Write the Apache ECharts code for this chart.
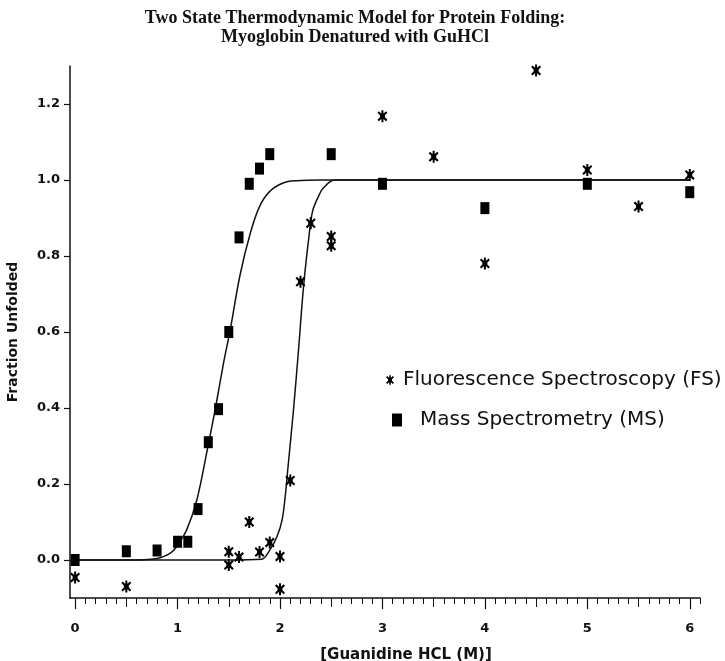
<!DOCTYPE html>
<html><head><meta charset="utf-8">
<script src="https://cdn.jsdelivr.net/npm/echarts@6/dist/echarts.min.js"></script>
<style>html,body{margin:0;padding:0;background:#fff}#c{width:725px;height:661px}</style>
</head><body><div id="c"></div>
<script>
// ---- data ----
const fsX = [0, 0.5, 1.5, 1.5, 1.6, 1.7, 1.8, 1.9, 2.0, 2.0, 2.1, 2.2, 2.3, 2.5, 2.5, 3.0, 3.5, 4.0, 4.5, 5.0, 5.5, 6.0];
const fsY = [-0.046, -0.07, 0.022, -0.013, 0.008, 0.10, 0.021, 0.046, 0.009, -0.077, 0.209, 0.732, 0.886, 0.851, 0.827, 1.168, 1.061, 0.78, 1.288, 1.026, 0.93, 1.013];
const msX = [0, 0.5, 0.8, 1.0, 1.1, 1.2, 1.3, 1.4, 1.5, 1.6, 1.7, 1.8, 1.9, 2.5, 3.0, 4.0, 5.0, 6.0];
const msY = [0.0, 0.023, 0.025, 0.048, 0.048, 0.134, 0.31, 0.397, 0.60, 0.849, 0.99, 1.03, 1.068, 1.068, 0.99, 0.926, 0.99, 0.968];
// fitted two-state curves
const msFitX = [0, 0.5, 0.8, 0.93, 0.99, 1.09, 1.19, 1.29, 1.37, 1.45, 1.51, 1.61, 1.71, 1.80, 1.90, 2.03, 2.16, 2.4, 3.0, 4.0, 5.0, 6.0];
const msFitY = [0, 0, 0.004, 0.018, 0.035, 0.08, 0.16, 0.29, 0.40, 0.52, 0.60, 0.75, 0.86, 0.93, 0.97, 0.992, 0.998, 1.0, 1.0, 1.0, 1.0, 1.0];
const fsFitX = [0, 1.0, 1.5, 1.82, 1.90, 1.97, 2.02, 2.05, 2.08, 2.13, 2.18, 2.23, 2.28, 2.32, 2.39, 2.42, 2.49, 2.55, 3.0, 4.0, 5.0, 6.0];
const fsFitY = [0, 0, 0, 0.002, 0.026, 0.061, 0.105, 0.165, 0.25, 0.39, 0.55, 0.72, 0.845, 0.92, 0.965, 0.978, 0.996, 1.0, 1.0, 1.0, 1.0, 1.0];
const xTicks = [0, 1, 2, 3, 4, 5, 6];
const xHalfTicks = [0.5, 1.5, 2.5, 3.5, 4.5, 5.5];
const yTicks = [0.0, 0.2, 0.4, 0.6, 0.8, 1.0, 1.2];
const names = ['Fluorescence Spectroscopy (FS)', 'Mass Spectrometry (MS)'];

const xMinor = [];
for (let i = 0; i <= 61; i++) { if (i % 5 !== 0) xMinor.push(i / 10); }

const zip = (a, b) => a.map((v, i) => [v, b[i]]);
const star = 'path://M4,0L6,0L6,12L4,12Z M0,2.5L1.5,1L10,9.5L8.5,11Z M8.5,1L10,2.5L1.5,11L0,9.5Z M2.5,3L7.5,3L7.5,9L2.5,9Z';
const INK = '#111';
const MARK = '#000';
const tickFont = { fontFamily: 'DejaVu Sans', fontWeight: 'bold', fontSize: 13, color: INK };
const XMIN = -0.05, XMAX = 6.1;

const chart = echarts.init(document.getElementById('c'), null, { renderer: 'canvas' });
chart.setOption({
  animation: false,
  backgroundColor: '#fff',
  title: {
    text: 'Two State Thermodynamic Model for Protein Folding:\nMyoglobin Denatured with GuHCl',
    left: 350, top: 4, padding: 5, textAlign: 'center',
    textStyle: { fontFamily: 'Liberation Serif', fontWeight: 'bold', fontSize: 18, lineHeight: 19, color: INK }
  },
  grid: { left: 70, right: 25, top: 66, bottom: 63, containLabel: false, outerBoundsMode: 'none' },
  legend: [
    { data: [names[0]], orient: 'vertical', left: 381, top: 365, itemWidth: 8, itemHeight: 11,
      icon: star, itemStyle: { color: MARK },
      textStyle: { fontFamily: 'DejaVu Sans', fontSize: 20, color: INK, padding: [0, 0, 0, 4] } },
    { data: [names[1]], orient: 'vertical', left: 387, top: 405, itemWidth: 10, itemHeight: 13,
      icon: 'rect', itemStyle: { color: MARK },
      textStyle: { fontFamily: 'DejaVu Sans', fontSize: 20, color: INK, padding: [0, 0, 0, 13] } }
  ],
  xAxis: [
    { type: 'value', min: XMIN, max: XMAX, position: 'bottom',
      name: '[Guanidine HCL (M)]', nameLocation: 'middle', nameGap: 50,
      nameTextStyle: { fontFamily: 'DejaVu Sans', fontWeight: 'bold', fontSize: 15, color: INK, padding: [0, 0, 0, 42] },
      axisLine: { onZero: false, lineStyle: { color: INK, width: 1.5 } },
      axisTick: { customValues: xTicks, length: 11, lineStyle: { color: INK, width: 1.2 } },
      axisLabel: { customValues: xTicks, margin: 24, ...tickFont, formatter: v => String(Math.round(v)) },
      splitLine: { show: false } },
    { type: 'value', min: XMIN, max: XMAX, position: 'bottom',
      axisLine: { show: false, onZero: false },
      axisTick: { customValues: xHalfTicks, length: 9, lineStyle: { color: INK, width: 1 } },
      axisLabel: { show: false }, splitLine: { show: false } },
    { type: 'value', min: XMIN, max: XMAX, position: 'bottom',
      axisLine: { show: false, onZero: false },
      axisTick: { customValues: xMinor, length: 6, lineStyle: { color: INK, width: 1 } },
      axisLabel: { show: false }, splitLine: { show: false } }
  ],
  yAxis: {
    type: 'value', min: -0.1, max: 1.3,
    name: 'Fraction Unfolded', nameLocation: 'middle', nameGap: 50,
    nameTextStyle: { fontFamily: 'DejaVu Sans', fontWeight: 'bold', fontSize: 14, color: INK },
    axisLine: { show: true, onZero: false, lineStyle: { color: INK, width: 1.5 } },
    axisTick: { show: true, customValues: yTicks, length: 6, lineStyle: { color: INK, width: 1.2 } },
    axisLabel: { customValues: yTicks, margin: 10, ...tickFont, formatter: v => v.toFixed(1) },
    splitLine: { show: false }
  },
  series: [
    { name: 'MS fit', type: 'line', data: zip(msFitX, msFitY), showSymbol: false, smooth: 0.35,
      lineStyle: { color: INK, width: 1.5 }, silent: true, z: 1 },
    { name: 'FS fit', type: 'line', data: zip(fsFitX, fsFitY), showSymbol: false, smooth: 0.35,
      lineStyle: { color: INK, width: 1.5 }, silent: true, z: 1 },
    { name: names[0], type: 'scatter', data: zip(fsX, fsY), symbol: star, symbolSize: [10, 12],
      itemStyle: { color: MARK, opacity: 1 }, z: 3 },
    { name: names[1], type: 'scatter', data: zip(msX, msY), symbol: 'rect', symbolSize: [9, 12],
      itemStyle: { color: MARK, opacity: 1 }, z: 3 }
  ]
});
</script></body></html>
